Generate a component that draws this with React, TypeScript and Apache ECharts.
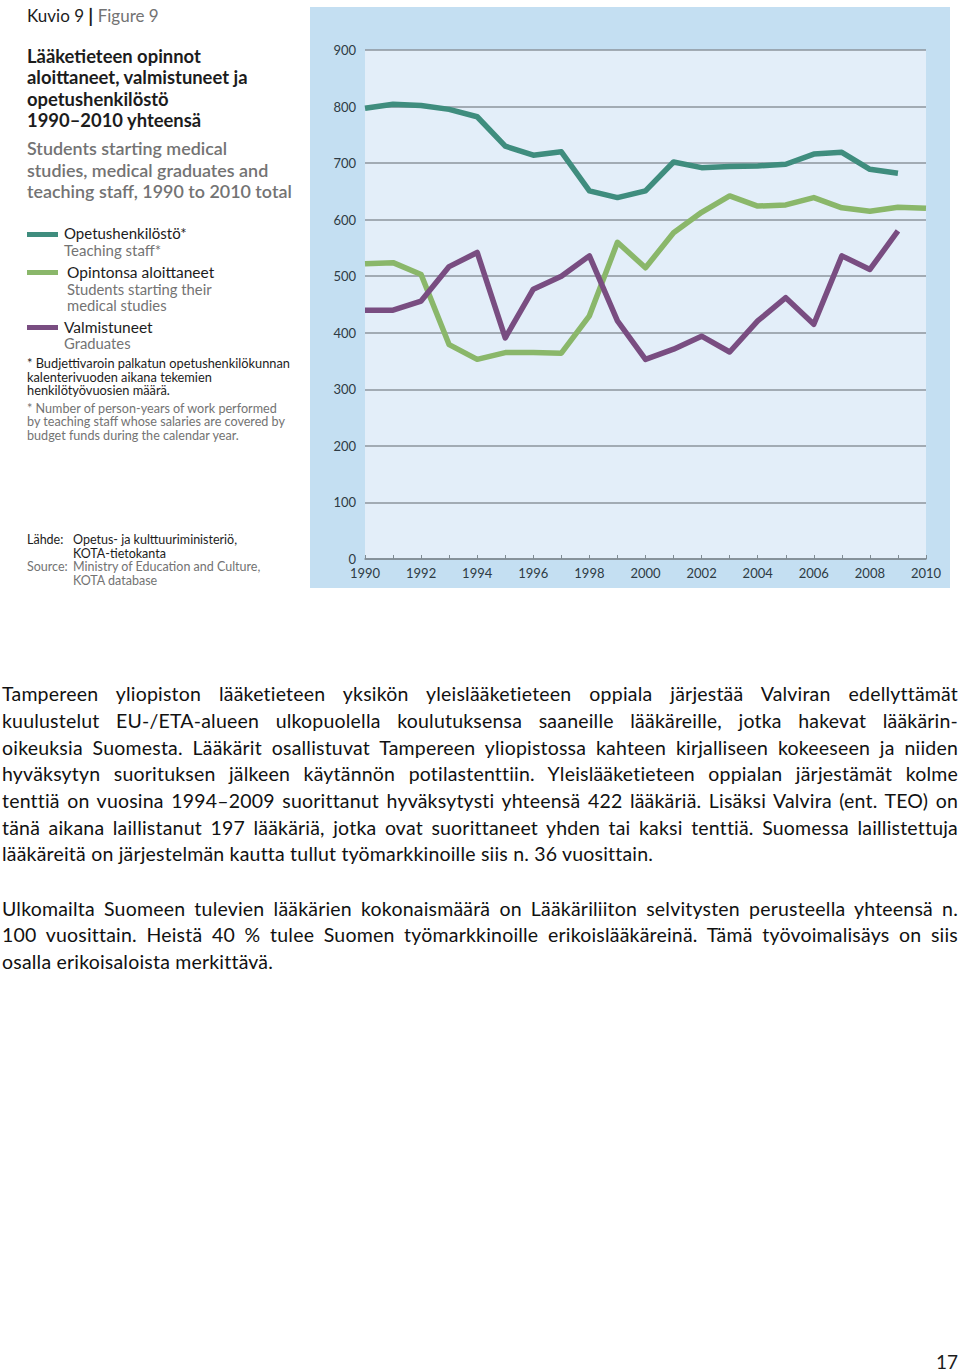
import React, { useEffect, useRef } from "react";
import * as echarts from "echarts";

const years = ["1990","1991","1992","1993","1994","1995","1996","1997","1998","1999","2000","2001","2002","2003","2004","2005","2006","2007","2008","2009","2010"];
const teachingStaff = [797, 804, 802, 795, 782, 730, 714, 720, 651, 639, 651, 702, 692, 694, 695, 698, 716, 719, 689, 682, null];
const studentsStarting = [522, 524, 503, 379, 353, 365, 365, 364, 430, 560, 515, 577, 613, 642, 624, 626, 639, 621, 615, 622, 620];
const graduates = [440, 440, 456, 517, 542, 391, 477, 500, 536, 421, 353, 371, 394, 366, 421, 462, 415, 536, 512, 580, null];
const yTicks = [0, 100, 200, 300, 400, 500, 600, 700, 800, 900];

const seriesNames = ["Opetushenkilöstö*", "Opintonsa aloittaneet", "Valmistuneet"];
const seriesColors = ["#3f8d7e", "#8ab76a", "#794d81"];

const para1 = [
  "Tampereen yliopiston lääketieteen yksikön yleislääketieteen oppiala järjestää Valviran edellyttämät",
  "kuulustelut EU-/ETA-alueen ulkopuolella koulutuksensa saaneille lääkäreille, jotka hakevat lääkärin-",
  "oikeuksia Suomesta. Lääkärit osallistuvat Tampereen yliopistossa kahteen kirjalliseen kokeeseen ja niiden",
  "hyväksytyn suorituksen jälkeen käytännön potilastenttiin. Yleislääketieteen oppialan järjestämät kolme",
  "tenttiä on vuosina 1994–2009 suorittanut hyväksytysti yhteensä 422 lääkäriä. Lisäksi Valvira (ent. TEO) on",
  "tänä aikana laillistanut 197 lääkäriä, jotka ovat suorittaneet yhden tai kaksi tenttiä. Suomessa laillistettuja",
  "lääkäreitä on järjestelmän kautta tullut työmarkkinoille siis n. 36 vuosittain.",
];
const para2 = [
  "Ulkomailta Suomeen tulevien lääkärien kokonaismäärä on Lääkäriliiton selvitysten perusteella yhteensä n.",
  "100 vuosittain.  Heistä 40 % tulee Suomen työmarkkinoille erikoislääkäreinä. Tämä työvoimalisäys on siis",
  "osalla erikoisaloista merkittävä.",
];

const FONT = "Lato, 'Open Sans', sans-serif";
const DARK = "#1c1c1c";
const GRAY = "#737373";

function txt(x: number, y: number, text: string, size: number, fill: string, weight: string = "normal", lh?: number) {
  return {
    type: "text",
    x,
    y,
    style: {
      text,
      fill,
      font: `${weight} ${size}px ${FONT}`,
      lineHeight: lh ?? Math.round(size * 1.1),
      textVerticalAlign: "middle",
      textAlign: "left",
    },
  };
}

export default function App() {
  const ref = useRef<HTMLDivElement>(null);

  useEffect(() => {
    if (!ref.current) return;
    const chart = echarts.init(ref.current, null, { renderer: "svg" });
    const graphics: any[] = [
      { type: "rect", z: -10, shape: { x: 310, y: 7, width: 640, height: 581 }, style: { fill: "#c4dff2" } },
      {
        type: "text",
        x: 27,
        y: 15,
        style: {
          text: "{a|Kuvio 9 }{b||}{c| Figure 9}",
          textVerticalAlign: "middle",
          rich: {
            a: { font: `normal 17px ${FONT}`, fill: DARK },
            b: { font: `bold 19px ${FONT}`, fill: DARK },
            c: { font: `normal 17px ${FONT}`, fill: GRAY },
          },
        },
      },
      txt(27, 56, "Lääketieteen opinnot", 18.4, DARK, "bold", 20),
      txt(27, 77, "aloittaneet, valmistuneet ja", 18.4, DARK, "bold", 20),
      txt(27, 99, "opetushenkilöstö", 18.4, DARK, "bold", 20),
      txt(27, 120, "1990–2010 yhteensä", 18.4, DARK, "bold", 20),
      txt(27, 148, "Students starting medical", 17.9, GRAY, "600", 20),
      txt(27, 170, "studies, medical graduates and", 17.9, GRAY, "600", 20),
      txt(27, 191, "teaching staff, 1990 to 2010 total", 17.9, GRAY, "600", 20),
      { type: "rect", shape: { x: 27, y: 232, width: 31, height: 5 }, style: { fill: seriesColors[0] } },
      txt(64, 233, seriesNames[0], 15, DARK, "normal", 16),
      txt(64, 250, "Teaching staff*", 15, GRAY, "normal", 16),
      { type: "rect", shape: { x: 27, y: 270, width: 31, height: 5 }, style: { fill: seriesColors[1] } },
      txt(67, 272, seriesNames[1], 15.5, DARK, "normal", 16),
      txt(67, 289, "Students starting their", 14.8, GRAY, "normal", 15),
      txt(67, 305, "medical studies", 14.8, GRAY, "normal", 15),
      { type: "rect", shape: { x: 27, y: 325, width: 31, height: 5 }, style: { fill: seriesColors[2] } },
      txt(64, 327, seriesNames[2], 15.5, DARK, "normal", 16),
      txt(64, 343, "Graduates", 14.8, GRAY, "normal", 15),
      txt(27, 363, "* Budjettivaroin palkatun opetushenkilökunnan", 12.8, DARK, "normal", 12),
      txt(27, 376.5, "kalenterivuoden aikana tekemien", 12.8, DARK, "normal", 12),
      txt(27, 390, "henkilötyövuosien määrä.", 12.8, DARK, "normal", 12),
      txt(27, 408, "* Number of person-years of work performed", 12.6, GRAY, "normal", 12),
      txt(27, 421.5, "by teaching staff whose salaries are covered by", 12.6, GRAY, "normal", 12),
      txt(27, 435, "budget funds during the calendar year.", 12.6, GRAY, "normal", 12),
      txt(27, 539.5, "Lähde:", 12.5, DARK, "normal", 12),
      txt(73, 539.5, "Opetus- ja kulttuuriministeriö,", 12.5, DARK, "normal", 12),
      txt(73, 553, "KOTA-tietokanta", 12.5, DARK, "normal", 12),
      txt(27, 566.5, "Source:", 12.5, GRAY, "normal", 12),
      txt(73, 566.5, "Ministry of Education and Culture,", 12.5, GRAY, "normal", 12),
      txt(73, 580, "KOTA database", 12.5, GRAY, "normal", 12),
      txt(936, 1361, "17", 19, DARK),
    ];

    chart.setOption({
      animation: false,
      backgroundColor: "#ffffff",
      grid: {
        left: 365,
        right: 34,
        top: 50,
        bottom: 813,
        show: true,
        backgroundColor: "#e3eef9",
        borderWidth: 0,
        containLabel: false,
      },
      xAxis: {
        type: "category",
        data: years,
        boundaryGap: false,
        axisLine: { show: true, lineStyle: { color: "#7f8b93", width: 1.5 } },
        axisTick: { show: true, inside: true, length: 4, interval: 0, lineStyle: { color: "#7f8b93", width: 1 } },
        axisLabel: { interval: 1, color: "#2e3b44", fontSize: 13, lineHeight: 12, fontFamily: FONT, margin: 8 },
        splitLine: { show: false },
      },
      yAxis: {
        type: "value",
        min: 0,
        max: 900,
        interval: 100,
        axisLine: { show: false },
        axisTick: { show: false },
        axisLabel: {
          color: "#2e3b44",
          fontSize: 13,
          lineHeight: 11,
          fontFamily: FONT,
          margin: 9,
          formatter: (v: number) => (yTicks.includes(v) ? String(v) : ""),
        },
        splitLine: { show: true, lineStyle: { color: "#8d959c", width: 1.5 } },
      },
      series: [teachingStaff, studentsStarting, graduates].map((d, i) => ({
        name: seriesNames[i],
        type: "line",
        data: d,
        symbol: "none",
        smooth: false,
        connectNulls: false,
        lineStyle: { color: seriesColors[i], width: 5.5, join: "round", cap: "butt" },
        itemStyle: { color: seriesColors[i] },
        z: 3 + i,
      })),
      graphic: { elements: graphics },
    });
    return () => chart.dispose();
  }, []);

  const lineStyle = (top: number, justify: boolean): React.CSSProperties => ({
    position: "absolute",
    left: 2,
    top,
    width: 956,
    height: 26,
    lineHeight: "26px",
    fontFamily: FONT,
    fontSize: 19.5,
    letterSpacing: "0.2px",
    color: "#111",
    whiteSpace: "nowrap",
    textAlign: justify ? "justify" : "left",
    textAlignLast: justify ? "justify" : "left",
  });

  const p1Centers = [694, 721, 748, 774, 801, 828, 854];
  const p2Centers = [909, 935, 962];

  return (
    <div style={{ position: "absolute", left: 0, top: 0, width: 960, height: 1372, background: "#fff" }}>
      <div ref={ref} style={{ position: "absolute", left: 0, top: 0, width: 960, height: 1372 }} />
      {para1.map((t, i) => (
        <div key={"a" + i} style={lineStyle(p1Centers[i] - 13, i < para1.length - 1)}>{t}</div>
      ))}
      {para2.map((t, i) => (
        <div key={"b" + i} style={lineStyle(p2Centers[i] - 13, i < para2.length - 1)}>{t}</div>
      ))}
    </div>
  );
}
